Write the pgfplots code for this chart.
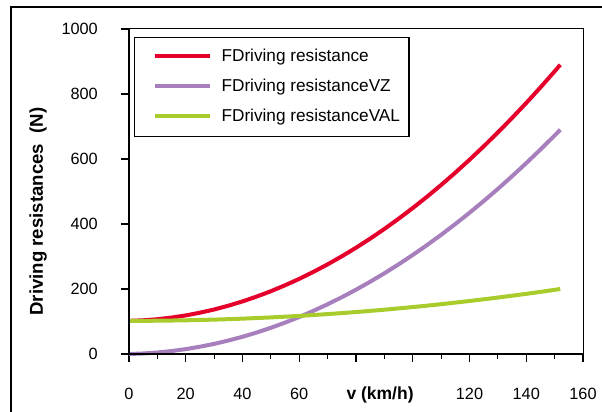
\documentclass[border=0pt]{standalone}
\usepackage{fontspec}
\setmainfont{Liberation Sans}
\usepackage{pgfplots}
\usepackage{pgfplotstable}
\pgfplotsset{compat=1.18}
\definecolor{fdr}{HTML}{E4002B}
\definecolor{fvz}{HTML}{A67FBC}
\definecolor{fval}{HTML}{A8CC2C}

% v in km/h, forces in N
\pgfplotstableread{
v   r     vz    val
0   102.0 0.0   102.0
5   103.7 1.6   102.1
10  107.0 4.6   102.4
15  112.1 9.1   103.0
20  118.7 15.0  103.7
25  127.1 22.4  104.7
30  136.9 31.1  105.8
35  148.6 41.4  107.2
40  161.8 53.0  108.8
45  176.7 66.1  110.6
50  193.2 80.6  112.6
55  211.4 96.6  114.8
60  231.2 113.9 117.3
65  252.7 132.8 119.9
70  275.8 153.0 122.8
75  300.6 174.7 125.9
80  326.9 197.8 129.1
85  355.0 222.4 132.6
90  384.7 248.4 136.3
95  416.1 275.8 140.3
100 449.1 304.7 144.4
105 483.7 335.0 148.7
110 520.0 366.7 153.3
115 558.0 399.9 158.1
120 597.6 434.5 163.1
125 638.9 470.6 168.3
130 681.7 508.0 173.7
135 726.3 547.0 179.3
140 772.4 587.3 185.1
145 820.2 629.1 191.1
150 869.7 672.3 197.4
152 890.0 690.0 200.0
}\drtable

\begin{document}
\begin{tikzpicture}
\useasboundingbox (-129pt,-58pt) rectangle (473pt,354pt);
\draw[line width=2pt] (-118pt,-80pt) -- (-118pt,347pt) -- (500pt,347pt);
\begin{axis}[
    scale only axis,
    width=454pt, height=325pt,
    xmin=0, xmax=160, ymin=0, ymax=1000,
    xtick={0,20,...,160},
    xticklabels={0,20,40,60,,,120,140,160},
    minor x tick num=1,
    ytick={0,200,...,1000},
    xtick pos=left, ytick pos=left,
    tick align=outside,
    major tick length=8pt, minor tick length=5pt,
    every tick/.style={black, line width=1.2pt},
    axis line style={line width=1pt},
    /pgf/number format/1000 sep={},
    /pgf/number format/assume math mode=true,
    ticklabel style={font=\fontsize{16.3}{18}\selectfont, inner sep=0pt},
    xticklabel style={anchor=base, yshift=-37.5pt},
    yticklabel style={anchor=east, xshift=-23pt},
    xlabel={v (km/h)},
    xlabel style={at={([yshift=-45.5pt]axis description cs:0.553,0)}, anchor=base,
        font=\fontsize{17.5}{20}\selectfont\bfseries},
    ylabel={Driving resistances~ (N)},
    ylabel style={at={([xshift=-86pt]axis description cs:0,0.438)}, anchor=base,
        font=\fontsize{18.6}{20}\selectfont\bfseries},
    clip=false,
    legend cell align=left,
    legend image code/.code={\path (0pt,5pt) (74pt,5pt); \draw[#1] (9pt,5pt) -- (64pt,5pt);},
    legend style={at={(axis description cs:0.011,0.975)}, anchor=north west,
        draw=black, line width=1.2pt, font=\fontsize{17.2}{20}\selectfont,
        inner xsep=9pt, inner ysep=11.5pt, row sep=14pt,
        cells={anchor=base west},
        nodes={inner sep=0pt, text height=12pt, text depth=4pt}},
]
\addplot[fdr, line width=4pt] table[x=v, y=r] {\drtable};
\addlegendentry{FDriving resistance}
\addplot[fvz, line width=4pt] table[x=v, y=vz] {\drtable};
\addlegendentry{FDriving resistanceVZ}
\addplot[fval, line width=4pt] table[x=v, y=val] {\drtable};
\addlegendentry{FDriving resistanceVAL}
\draw[line width=2pt] (rel axis cs:0,1) -- (rel axis cs:0,0) -- (rel axis cs:1,0);
\end{axis}
\end{tikzpicture}
\end{document}
